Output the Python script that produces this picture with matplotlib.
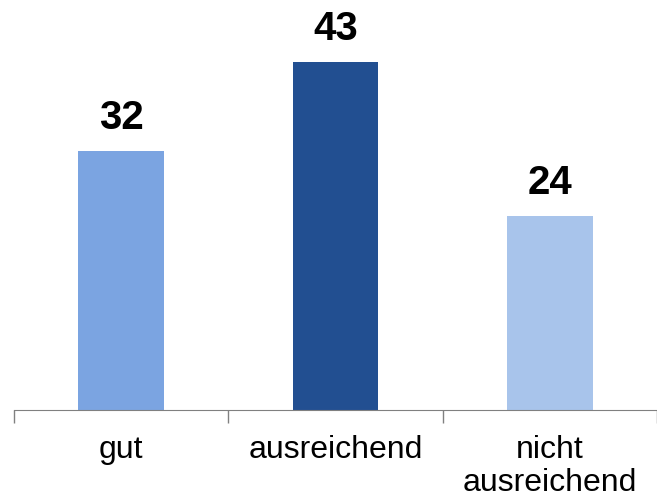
import matplotlib.pyplot as plt
import numpy as np

# Einschätzung: Anteile in Prozent
categories = ['gut', 'ausreichend', 'nicht\nausreichend']
values = [32, 43, 24]
colors = ['#7ba4e1', '#224f91', '#a8c4eb']

plt.rcParams['font.family'] = ['Liberation Sans', 'DejaVu Sans']

fig = plt.figure(figsize=(6.57, 5.01), dpi=100)
ax = fig.add_axes([14/657, 91/501, 643/657, 410/501])

x = np.arange(len(categories))
bars = ax.bar(x, values, width=0.4, color=colors)

for b, v in zip(bars, values):
    ax.annotate(str(v), (b.get_x() + b.get_width()/2, v),
                xytext=(0, 10), textcoords='offset points',
                ha='center', va='bottom', fontsize=29, fontweight='bold')

ax.set_xlim(-0.5, -0.5 + 643/216)
ax.set_ylim(0, 410/8.09)

# ticks between categories, labels at the centres
ax.set_xticks(np.arange(-0.5, len(categories)), minor=False)
ax.set_xticklabels([])
ax.set_xticks(x, minor=True)
ax.set_xticklabels(categories, minor=True, fontsize=23, linespacing=1.12)
ax.tick_params(axis='x', which='major', length=9, width=1, color='#808080', direction='out')
ax.tick_params(axis='x', which='minor', length=0, pad=18)
ax.set_yticks([])

for s in ['top', 'right', 'left']:
    ax.spines[s].set_visible(False)
ax.spines['bottom'].set_color('#808080')

fig.savefig('out.png', dpi=100)
